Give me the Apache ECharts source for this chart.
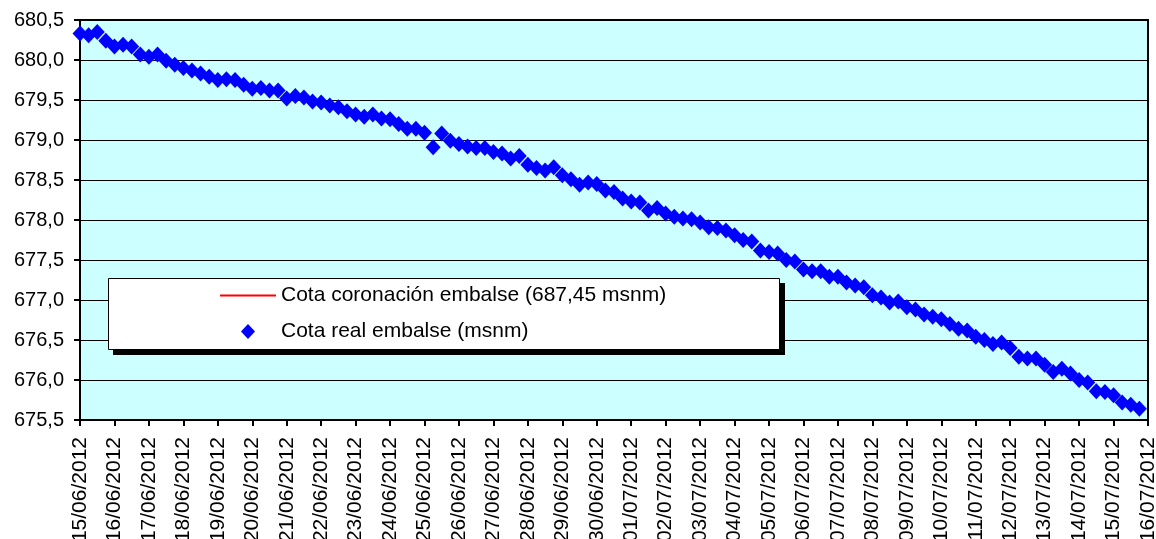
<!DOCTYPE html>
<html>
<head>
<meta charset="utf-8">
<script src="https://cdn.jsdelivr.net/npm/echarts@6/dist/echarts.min.js"></script>
<style>
html,body{margin:0;padding:0;background:#fff;}
#c{width:1156px;height:539px;}
</style>
</head>
<body>
<div id="c"></div>
<script>
// Tick labels (one per day)
const dateLabels = [
  '15/06/2012','16/06/2012','17/06/2012','18/06/2012','19/06/2012','20/06/2012','21/06/2012','22/06/2012',
  '23/06/2012','24/06/2012','25/06/2012','26/06/2012','27/06/2012','28/06/2012','29/06/2012','30/06/2012',
  '01/07/2012','02/07/2012','03/07/2012','04/07/2012','05/07/2012','06/07/2012','07/07/2012','08/07/2012',
  '09/07/2012','10/07/2012','11/07/2012','12/07/2012','13/07/2012','14/07/2012','15/07/2012','16/07/2012'
];
// Readings every 6 hours
const hours = ['00:00','06:00','12:00','18:00'];

const seriesNames = ['Cota coronación embalse (687,45 msnm)', 'Cota real embalse (msnm)'];

// Cota coronación (constant, outside the visible range)
const cotaCoronacion = 687.45;

// Cota real embalse (msnm), 4 readings per day from 15/06/2012 00:00 to 15/07/2012 18:00
const cotaReal = [
  680.33, 680.31, 680.35, 680.24, 680.17, 680.19, 680.17, 680.07, 680.04, 680.07, 679.99, 679.94, 679.90, 679.87, 679.83, 679.79, 679.75, 679.76, 679.75, 679.69, 679.64,
  679.65, 679.62, 679.62, 679.52, 679.55, 679.53, 679.48, 679.47, 679.43, 679.41, 679.36, 679.32, 679.29, 679.32, 679.27, 679.26, 679.20, 679.14, 679.14, 679.09, 678.91,
  679.08, 678.99, 678.95, 678.92, 678.90, 678.90, 678.85, 678.83, 678.77, 678.80, 678.69, 678.65, 678.62, 678.66, 678.56, 678.51, 678.44, 678.47, 678.45, 678.37, 678.35,
  678.27, 678.23, 678.22, 678.12, 678.15, 678.08, 678.04, 678.02, 678.01, 677.97, 677.91, 677.90, 677.87, 677.81, 677.75, 677.73, 677.62, 677.60, 677.58, 677.50, 677.48,
  677.38, 677.36, 677.36, 677.29, 677.29, 677.22, 677.18, 677.16, 677.06, 677.03, 676.97, 676.98, 676.91, 676.88, 676.82, 676.79, 676.76, 676.70, 676.64, 676.62, 676.54,
  676.50, 676.45, 676.47, 676.40, 676.29, 676.27, 676.27, 676.19, 676.10, 676.14, 676.08, 676.00, 675.97, 675.86, 675.85, 675.81, 675.72, 675.69, 675.64
];

// Build category list: every 6h, ending at the last date at 00:00
const categories = [];
dateLabels.forEach((d, i) => {
  if (i < dateLabels.length - 1) hours.forEach(h => categories.push(d + ' ' + h));
  else categories.push(d + ' ' + hours[0]);
});

const FONT = '"Liberation Sans", Arial, sans-serif';
const showEveryDay = (idx) => idx % 4 === 0;

const chart = echarts.init(document.getElementById('c'), null, {renderer: 'canvas'});
chart.setOption({
  animation: false,
  backgroundColor: '#ffffff',
  grid: {
    left: 80, right: 8, top: 20, bottom: 119,
    outerBoundsMode: 'none',
    containLabel: false,
    show: true, backgroundColor: '#CCFFFF', borderColor: '#000', borderWidth: 2
  },
  xAxis: {
    type: 'category',
    data: categories,
    boundaryGap: false,
    axisLine: {show: true, lineStyle: {color: '#000', width: 2}},
    axisTick: {show: true, interval: showEveryDay, length: 6, lineStyle: {color: '#000', width: 2}},
    axisLabel: {
      interval: showEveryDay, rotate: 90, margin: 17,
      fontFamily: FONT, fontSize: 21, color: '#000',
      formatter: v => v.split(' ')[0]
    },
    splitLine: {show: false}
  },
  yAxis: {
    type: 'value',
    min: 675.5, max: 680.5, interval: 0.5,
    axisLine: {show: true, lineStyle: {color: '#000', width: 2}},
    axisTick: {show: true, length: 6, lineStyle: {color: '#000', width: 2}},
    axisLabel: {
      margin: 16, fontFamily: FONT, fontSize: 20, color: '#000',
      formatter: v => v.toFixed(1).replace('.', ',')
    },
    splitLine: {show: true, lineStyle: {color: '#000', width: 1}}
  },
  graphic: [
    {type: 'rect', z: 3, shape: {x: 113, y: 283, width: 672, height: 72}, style: {fill: '#000'}},
    {type: 'rect', z: 3, shape: {x: 108.5, y: 278.5, width: 671, height: 71}, style: {fill: '#fff', stroke: '#000', lineWidth: 1}}
  ],
  legend: {
    orient: 'vertical',
    left: 220, top: 285,
    itemWidth: 56, itemHeight: 15, itemGap: 15,
    padding: 0,
    symbolKeepAspect: true,
    textStyle: {fontFamily: FONT, fontSize: 21, color: '#000', lineHeight: 20},
    data: [
      {name: seriesNames[0], icon: 'path://M0,0L56,0L56,2L0,2Z', itemStyle: {color: '#FF0000', opacity: 1}},
      {name: seriesNames[1], icon: 'path://M7,0L14,7.5L7,15L0,7.5Z', itemStyle: {color: '#0000FF', opacity: 1}}
    ]
  },
  series: [
    {
      name: seriesNames[0],
      type: 'line',
      data: [[categories[0], cotaCoronacion], [categories[categories.length - 1], cotaCoronacion]],
      symbol: 'none',
      clip: true,
      lineStyle: {color: '#FF0000', width: 2},
      itemStyle: {color: '#FF0000'}
    },
    {
      name: seriesNames[1],
      type: 'scatter',
      data: cotaReal,
      symbol: 'diamond',
      symbolSize: [15, 16],
      itemStyle: {color: '#0000FF', opacity: 1}
    }
  ]
});
</script>
</body>
</html>
